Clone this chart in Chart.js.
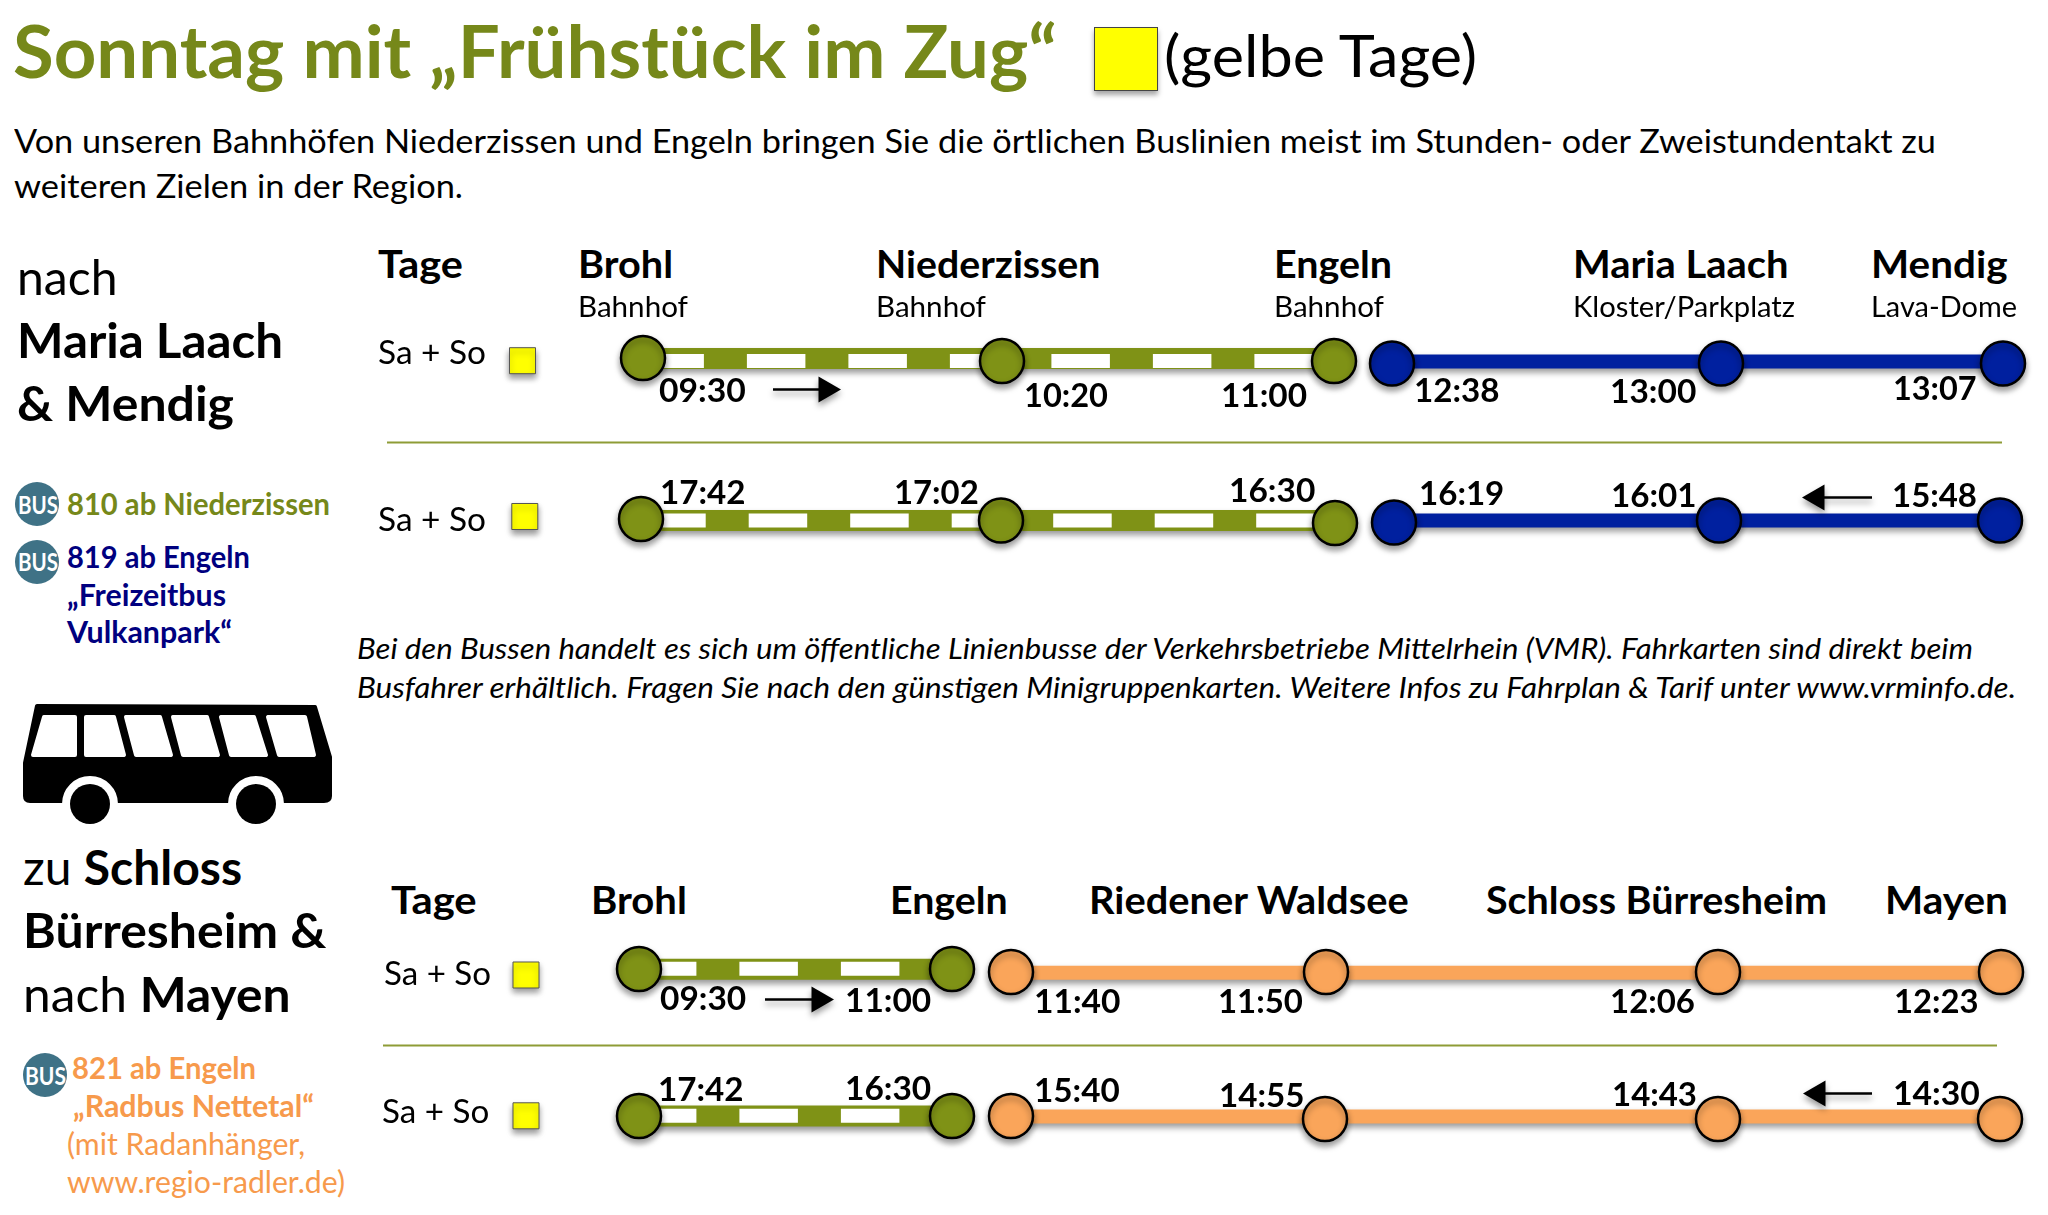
<!DOCTYPE html>
<html lang="de">
<head>
<meta charset="utf-8">
<title>Sonntag mit „Frühstück im Zug“</title>
<script src="https://cdn.jsdelivr.net/npm/chart.js@4"></script>
<style>
	html, body { margin: 0; background: #fff; }
	#page { position: relative; width: 2048px; height: 1215px; overflow: hidden; font-family: Lato, sans-serif; }
	#page canvas { position: absolute; left: 380px; }
	.t { position: absolute; white-space: nowrap; transform-origin: 0 0; }
	.badge { position: absolute; border-radius: 50%; background: #3f7286; }
	#legendSquare { position: absolute; left: 1094px; top: 27px; width: 62px; height: 62px; background: #ff0; border: 1px solid #444; box-shadow: 0 4px 5px rgba(0, 0, 0, 0.35); }
	#bus { position: absolute; left: 0; top: 700px; }
</style>
</head>
<body>
<div id="page">
	<div id="legendSquare"></div>
	<canvas id="chart_oben" width="1668" height="240" style="top:320px"></canvas>
	<canvas id="chart_unten" width="1668" height="240" style="top:930px"></canvas>
	<svg id="bus" width="340" height="130" viewBox="0 700 340 130">
		<path fill="#000" stroke="#000" stroke-width="4" stroke-linejoin="round" d="M37 706 L315 707 L330 757 L330 796 Q330 801 324 801 L30 801 Q25 801 25 796 L25 763 Z"/>
		<g fill="#fff" stroke="#fff" stroke-width="4" stroke-linejoin="round">
			<polygon points="44,717 75,717 75,755 33,755"/>
			<polygon points="86,717 114,717 124,755 86,755"/>
			<polygon points="126,717 160,717 171,755 136,755"/>
			<polygon points="173,717 207,717 218,755 183,755"/>
			<polygon points="221,717 254,717 266,755 231,755"/>
			<polygon points="268,717 305,717 314,755 279,755"/>
			<circle cx="90" cy="804" r="26"/>
			<circle cx="256" cy="804" r="26"/>
			<rect x="50" y="805" width="250" height="25" stroke="none"/>
		</g>
		<circle cx="90" cy="804" r="20" fill="#000"/>
		<circle cx="256" cy="804" r="20" fill="#000"/>
	</svg>
</div>
<script>
// Stations.
const stationenOben = ['Brohl', 'Niederzissen', 'Engeln', 'Maria Laach', 'Mendig'];
const haltestellenOben = ['Bahnhof', 'Bahnhof', 'Bahnhof', 'Kloster/Parkplatz', 'Lava-Dome'];
const stationenUnten = ['Brohl', 'Engeln', 'Riedener Waldsee', 'Schloss Bürresheim', 'Mayen'];

// Departure times, one per stop.
const zeitenHinOben = ['09:30', '10:20', '11:00', '12:38', '13:00', '13:07'];
const zeitenRueckOben = ['17:42', '17:02', '16:30', '16:19', '16:01', '15:48'];
const zeitenHinUnten = ['09:30', '11:00', '11:40', '11:50', '12:06', '12:23'];
const zeitenRueckUnten = ['17:42', '16:30', '15:40', '14:55', '14:43', '14:30'];

// Position of each stop along the drawn route.
const streckeHinOben = [0.3, 36.2, 69.4, 75.2, 108.1, 136.3];
const streckeRueckOben = [0.1, 36.1, 69.5, 75.4, 107.9, 136];
const streckeHinUnten = [-0.1, 31.2, 37.1, 68.6, 107.8, 136.1];
const streckeRueckUnten = [-0.1, 31.2, 37.1, 68.5, 107.8, 136];

// Lane of each stop, and of the train and bus track.
const spurHinOben = [35.8, 36.1, 36.1, 36.35, 36.35, 36.35];
const spurRueckOben = [51.9, 52.05, 52.3, 52.25, 52.05, 52.05];
const spurHinUnten = [96.9, 96.9, 97.2, 97.2, 97.2, 97.2];
const spurRueckUnten = [111.6, 111.6, 111.6, 111.9, 111.9, 111.9];
const gleisOben = [35.85, 52.06];
const weissOben = [36.1, 52.04];
const busspurOben = [36.15, 52.05];
const gleisUnten = [96.93, 111.6];
const weissUnten = [96.88, 111.58];
const busspurUnten = [97.28, 111.66];

// Yellow "Sa + So" day markers.
const tageXOben = [-11.75, -11.52];
const tageYOben = [36.07, 51.65];
const tageXUnten = [-11.4, -11.4];
const tageYUnten = [97.5, 111.58];

// Direction arrows: tail, head, lane.
const pfeilOben = [[13.3, 18.6, 38.96], [123.2, 117.7, 49.75]];
const pfeilUnten = [[12.5, 17.9, 99.96], [123.2, 117.8, 109.34]];

// Separators: from, to, lane.
const trennerOben = [-25.3, 136.2, 44.24];
const trennerUnten = [-25.7, 135.7, 104.55];

const OLIVE = '#7f9216';
const BLUE = '#00209f';
const ORANGE = '#faa55a';
const NAVY = '#00007f';
const TEXT_ORANGE = '#f79a4c';

const shadowPlugin = {
	id: 'schatten',
	beforeDatasetDraw(chart, args) {
		if (!chart.data.datasets[args.index].schatten) return;
		const ctx = chart.ctx;
		ctx.save();
		ctx.shadowColor = 'rgba(0, 0, 0, 0.4)';
		ctx.shadowBlur = 6;
		ctx.shadowOffsetY = 4;
	},
	afterDatasetDraw(chart, args) {
		if (chart.data.datasets[args.index].schatten) chart.ctx.restore();
	}
};

function lineDataset(xs, ys, color, width, order, extra) {
	return Object.assign({
		data: xs.map((x, i) => ({ x, y: ys[i] })),
		borderColor: color,
		borderWidth: width,
		pointRadius: 0,
		order: order,
		clip: false,
	}, extra);
}

function stopDataset(xs, ys, color, order) {
	return {
		data: xs.map((x, i) => ({ x, y: ys[i] })),
		showLine: false,
		pointRadius: 22,
		pointBorderWidth: 2.5,
		pointBorderColor: '#000',
		pointBackgroundColor: color,
		order: order,
		clip: false,
		schatten: true,
	};
}

// One timetable row: train part, white dashes, bus part and the stops.
function rowDatasets(strecke, spur, gleis, weiss, busspur, trainStops, busColor, dashOffset) {
	const trainX = strecke.slice(0, trainStops);
	const busX = strecke.slice(trainStops);
	return [
		lineDataset(trainX, trainX.map(() => gleis), OLIVE, 21, 5, { schatten: true }),
		lineDataset(trainX, trainX.map(() => weiss), '#fff', 14, 4, { borderDash: [58.5, 43], borderDashOffset: dashOffset }),
		lineDataset(busX, busX.map(() => busspur), busColor, 14, 5, { schatten: true }),
		stopDataset(trainX, spur.slice(0, trainStops), OLIVE, 1),
		stopDataset(busX, spur.slice(trainStops), busColor, 1),
	];
}

function arrowDatasets(pfeil) {
	const rotation = pfeil[1] > pfeil[0] ? 90 : 270;
	return [
		lineDataset([pfeil[0], pfeil[1]], [pfeil[2], pfeil[2]], '#000', 2.5, 3, { schatten: true }),
		{
			data: [{ x: pfeil[1], y: pfeil[2] }],
			showLine: false,
			pointStyle: 'triangle',
			pointRotation: rotation,
			pointRadius: 15,
			pointBackgroundColor: '#000',
			pointBorderColor: '#000',
			pointBorderWidth: 0,
			order: 2,
			clip: false,
			schatten: true,
		},
	];
}

function createPanel(canvasId, yMin, datasets) {
	return new Chart(document.getElementById(canvasId), {
		type: 'line',
		data: { datasets },
		options: {
			responsive: false,
			animation: false,
			events: [],
			layout: { padding: 0, autoPadding: false },
			scales: {
				x: { type: 'linear', display: false, min: -26, max: 140.8 },
				y: { type: 'linear', display: false, reverse: true, min: yMin, max: yMin + 24 },
			},
			plugins: { legend: { display: false }, tooltip: { enabled: false } },
		},
		plugins: [shadowPlugin],
	});
}

function markerDataset(xs, ys) {
	return {
		data: xs.map((x, i) => ({ x, y: ys[i] })),
		showLine: false,
		pointStyle: 'rect',
		pointRadius: 18.4,
		pointBackgroundColor: '#ff0',
		pointBorderColor: '#555',
		pointBorderWidth: 1,
		order: 1,
		clip: false,
		schatten: true,
	};
}

function initCharts() {
	createPanel('chart_oben', 32, [
		...rowDatasets(streckeHinOben, spurHinOben, gleisOben[0], weissOben[0], busspurOben[0], 3, BLUE, -2.4),
		...rowDatasets(streckeRueckOben, spurRueckOben, gleisOben[1], weissOben[1], busspurOben[1], 3, BLUE, -6.2),
		...arrowDatasets(pfeilOben[0]),
		...arrowDatasets(pfeilOben[1]),
		markerDataset(tageXOben, tageYOben),
		lineDataset(trennerOben.slice(0, 2), [trennerOben[2], trennerOben[2]], '#8e9c36', 2, 6),
	]);
	createPanel('chart_unten', 93, [
		...rowDatasets(streckeHinUnten, spurHinUnten, gleisUnten[0], weissUnten[0], busspurUnten[0], 2, ORANGE, 1.1),
		...rowDatasets(streckeRueckUnten, spurRueckUnten, gleisUnten[1], weissUnten[1], busspurUnten[1], 2, ORANGE, 1.1),
		...arrowDatasets(pfeilUnten[0]),
		...arrowDatasets(pfeilUnten[1]),
		markerDataset(tageXUnten, tageYUnten),
		lineDataset(trennerUnten.slice(0, 2), [trennerUnten[2], trennerUnten[2]], '#8e9c36', 2, 6),
	]);
}

// Place text with its baseline at y, and squeeze it to span x0..x1 (Lato is wider than the original face).
const measureCtx = document.createElement('canvas').getContext('2d');
function place(html, x0, x1, y, size, weight, color, italic) {
	const style = italic ? 'italic' : 'normal';
	measureCtx.font = `${style} ${weight} ${size}px Lato`;
	const m = measureCtx.measureText('Hg');
	const ascent = m.fontBoundingBoxAscent;
	const descent = m.fontBoundingBoxDescent;
	const el = document.createElement('div');
	el.className = 't';
	el.innerHTML = html;
	el.style.font = `${style} ${weight} ${size}px/${size}px Lato, sans-serif`;
	el.style.color = color;
	el.style.left = `${x0}px`;
	// 1.3px down: the baselines came out slightly high against the reference.
	el.style.top = `${y + 1.3 - ((size - ascent - descent) / 2 + ascent)}px`;
	document.getElementById('page').appendChild(el);
	el.style.transform = `scaleX(${(x1 - x0) / el.getBoundingClientRect().width})`;
}

function placeBadge(cx, cy, x0, x1, baseline) {
	const badge = document.createElement('div');
	badge.className = 'badge';
	badge.style.cssText = `left:${cx - 22}px;top:${cy - 22}px;width:44px;height:44px`;
	document.getElementById('page').appendChild(badge);
	place('BUS', x0, x1, baseline, 24, 700, '#fff');
}

function placeTexts() {
	const t = place;
	t('Sonntag mit „Frühstück im Zug“', 13, 1057, 76.5, 72, 700, '#76881a');
	t('(gelbe Tage)', 1164, 1477, 75.8, 58, 400, '#000');
	t('Von unseren Bahnhöfen Niederzissen und Engeln bringen Sie die örtlichen Buslinien meist im Stunden- oder Zweistundentakt zu', 14, 1936, 152, 32, 400, '#000');
	t('weiteren Zielen in der Region.', 14, 463, 197, 32, 400, '#000');

	// Left column, top.
	t('nach', 17, 117.5, 294, 48, 400, '#000');
	t('Maria Laach', 17, 283, 357, 48, 700, '#000');
	t('&amp; Mendig', 17, 234, 420, 48, 700, '#000');
	placeBadge(37, 504, 18, 58, 513);
	placeBadge(37, 562, 18, 58, 570.5);
	t('810 ab Niederzissen', 67, 330, 513.6, 30, 700, '#76881a');
	t('819 ab Engeln', 67, 250, 567, 30, 700, NAVY);
	t('„Freizeitbus', 67, 226, 605, 30, 700, NAVY);
	t('Vulkanpark“', 67, 232, 642, 30, 700, NAVY);

	// Left column, bottom.
	t('zu <b>Schloss</b>', 23, 242, 884.3, 48, 400, '#000');
	t('Bürresheim &amp;', 22.5, 326, 947, 48, 700, '#000');
	t('nach <b>Mayen</b>', 22.5, 290, 1011, 48, 400, '#000');
	placeBadge(45, 1075, 25, 66, 1084);
	t('821 ab Engeln', 72, 256, 1077.7, 30, 700, TEXT_ORANGE);
	t('„Radbus Nettetal“', 73, 314, 1116, 30, 700, TEXT_ORANGE);
	t('(mit Radanhänger,', 67, 305, 1153.8, 30, 400, TEXT_ORANGE);
	t('www.regio-radler.de)', 67, 345, 1191.4, 30, 400, TEXT_ORANGE);

	// Upper table.
	t('Tage', 378, 463, 276.3, 38, 700, '#000');
	[[578, 673], [875.5, 1100], [1274, 1392], [1572.5, 1788], [1870.5, 2007]].forEach((span, i) => {
		t(stationenOben[i], span[0], span[1], 276.3, 38, 700, '#000');
	});
	[[578, 688], [876, 986], [1274, 1384], [1573, 1795], [1871, 2017]].forEach((span, i) => {
		t(haltestellenOben[i], span[0], span[1], 315.7, 28, 400, '#000');
	});
	t('Sa + So', 378, 486, 362.8, 33, 400, '#000');
	t('Sa + So', 378, 486, 530, 33, 400, '#000');
	[[658.5, 745.4, 401], [1024, 1108, 405.7], [1220.9, 1307, 405.7], [1413.5, 1499, 400.7], [1610, 1696.3, 401.8], [1893.4, 1977, 398.8]].forEach((p, i) => {
		t(zeitenHinOben[i], p[0], p[1], p[2], 33, 700, '#000');
	});
	[[659.8, 745.4, 503], [894.3, 979, 503], [1228.7, 1315, 501.3], [1418.7, 1504, 504.4], [1610.7, 1696.3, 506], [1892, 1977, 506]].forEach((p, i) => {
		t(zeitenRueckOben[i], p[0], p[1], p[2], 33, 700, '#000');
	});

	// Note between the tables.
	t('Bei den Bussen handelt es sich um öffentliche Linienbusse der Verkehrsbetriebe Mittelrhein (VMR). Fahrkarten sind direkt beim', 357, 1973, 658, 29.5, 400, '#000', true);
	t('Busfahrer erhältlich. Fragen Sie nach den günstigen Minigruppenkarten. Weitere Infos zu Fahrplan &amp; Tarif unter www.vrminfo.de.', 357, 2016, 696.9, 29.5, 400, '#000', true);

	// Lower table.
	t('Tage', 391, 476.7, 913, 38, 700, '#000');
	[[590.5, 686.4], [890, 1007.6], [1089, 1408.7], [1485.5, 1826.6], [1884.6, 2007.5]].forEach((span, i) => {
		t(stationenUnten[i], span[0], span[1], 913, 38, 700, '#000');
	});
	t('Sa + So', 384, 491, 984.4, 33, 400, '#000');
	t('Sa + So', 382.3, 489.6, 1122.4, 33, 400, '#000');
	[[659.8, 746, 1008.7], [845.3, 931.5, 1011], [1033.8, 1120.3, 1012.6], [1217.6, 1302.5, 1011.8], [1610, 1695, 1012.6], [1893.8, 1978.4, 1011.8]].forEach((p, i) => {
		t(zeitenHinUnten[i], p[0], p[1], p[2], 33, 700, '#000');
	});
	[[657.9, 743.5, 1100], [845.3, 931.5, 1099], [1034, 1119.7, 1100.8], [1219, 1304.5, 1106], [1612, 1697, 1104.8], [1892.8, 1979.7, 1104]].forEach((p, i) => {
		t(zeitenRueckUnten[i], p[0], p[1], p[2], 33, 700, '#000');
	});
}

initCharts();
placeTexts();
</script>
</body>
</html>
